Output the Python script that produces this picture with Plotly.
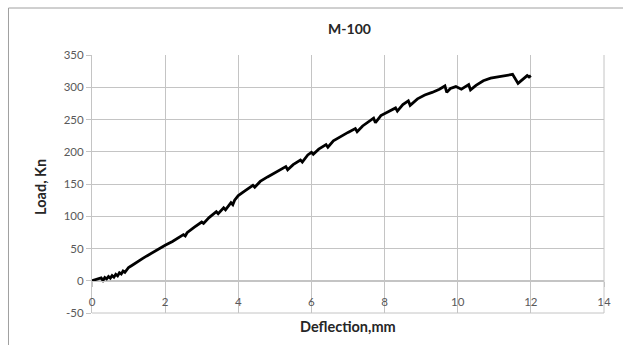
import plotly.graph_objects as go

# Deflection (mm) and Load (kN)
deflection = [0, 0.1, 0.2, 0.25, 0.3, 0.35, 0.4, 0.45, 0.5, 0.55, 0.6, 0.65, 0.7, 0.75,
              0.8, 0.85, 0.9, 0.95, 1.0, 1.1, 1.2, 1.3, 1.4, 1.5, 1.6, 1.7, 1.8, 1.9,
              2.0, 2.2, 2.4, 2.5, 2.55, 2.6, 2.8, 3.0, 3.05, 3.2, 3.4, 3.45, 3.6, 3.65,
              3.8, 3.85, 3.9, 4.0, 4.2, 4.4, 4.45, 4.6, 4.8, 5.0, 5.2, 5.3, 5.35, 5.5,
              5.7, 5.75, 5.9, 6.0, 6.05, 6.2, 6.4, 6.45, 6.6, 6.8, 7.0, 7.2, 7.25, 7.4,
              7.6, 7.7, 7.75, 7.9, 8.1, 8.3, 8.35, 8.5, 8.65, 8.7, 8.9, 9.1, 9.3, 9.5,
              9.65, 9.7, 9.8, 9.95, 10.1, 10.3, 10.35, 10.5, 10.7, 10.9, 11.1, 11.3,
              11.5, 11.65, 11.8, 11.9, 11.95, 12.0]
load = [0, 1.5, 3, 4.5, 0.5, 5, 3, 6.5, 4, 8, 5.5, 10, 7.5, 12.5,
        10.5, 15, 13, 17.5, 20.5, 24, 28, 31.5, 35, 38.5, 42, 45.5, 49, 52.5,
        55, 61, 68, 71.5, 69.5, 74.5, 83, 91, 89, 98, 107, 104, 113, 110,
        121, 118, 125, 132, 140, 148, 145, 154, 161, 167, 174, 177, 172, 180,
        187, 184, 195, 199, 196, 204, 211, 207, 217, 224, 230, 236, 231, 240,
        248, 252, 245, 256, 262, 268, 263, 273, 279, 272, 282, 288, 292, 297,
        302, 292, 298, 301, 297, 304, 296, 303, 310, 314, 316, 318,
        320, 306, 313, 318, 316, 318]

x_ticks = [0, 2, 4, 6, 8, 10, 12, 14]
y_ticks = [-50, 0, 50, 100, 150, 200, 250, 300, 350]

grid = "#c4c4c4"
tick_font = dict(family="Lato, Open Sans, sans-serif", size=11.5, color="#595959")
title_font = dict(family="Lato, Open Sans, sans-serif", size=14.5, color="#262626")

fig = go.Figure()
fig.add_trace(go.Scatter(x=deflection, y=load, mode="lines",
                         line=dict(color="black", width=2.8), showlegend=False))

fig.update_layout(
    width=623, height=345,
    margin=dict(l=92, r=16, t=55, b=32),
    paper_bgcolor="white", plot_bgcolor="white",
    title=dict(text="<b>M-100</b>", x=0.561, xanchor="center", y=0.915, yanchor="middle",
               font=dict(family="Lato, Open Sans, sans-serif", size=14, color="#262626")),
    xaxis=dict(range=[0, 14], tickvals=x_ticks, ticktext=[str(v) for v in x_ticks],
               showgrid=True, gridcolor=grid, gridwidth=1, zeroline=False,
               showline=True, linecolor=grid, mirror=False,
               anchor="free", position=0.125,
               ticks="outside", ticklen=5, tickcolor=grid, ticklabelstandoff=5,
               tickfont=tick_font),
    yaxis=dict(range=[-50, 350], tickvals=y_ticks, ticktext=[str(v) for v in y_ticks],
               showgrid=True, gridcolor=grid, gridwidth=1, zeroline=False,
               showline=True, linecolor=grid,
               ticks="outside", ticklen=5, tickcolor=grid,
               tickfont=tick_font, domain=[0, 1]),
)

# bottom and right grid boundaries
fig.add_shape(type="line", xref="paper", yref="paper", x0=0, x1=1, y0=0, y1=0,
              line=dict(color=grid, width=1))
fig.add_shape(type="line", xref="paper", yref="paper", x0=1, x1=1, y0=0, y1=1,
              line=dict(color=grid, width=1))

# chart outer frame (extends beyond the image at right/bottom)
fig.add_shape(type="rect", xref="paper", yref="paper",
              x0=(8 - 92) / 515, x1=1.2, y0=-0.5, y1=(313 - 8) / 258,
              line=dict(color="#a0a0a0", width=1), layer="below")

fig.add_annotation(text="<b>Deflection,mm</b>", xref="paper", yref="paper",
                   x=0.5, y=(313 - 326) / 258, xanchor="center", yanchor="middle",
                   showarrow=False, font=title_font)
fig.add_annotation(text="<b>Load, Kn</b>", xref="paper", yref="paper",
                   x=(40 - 92) / 515, y=0.49, xanchor="center", yanchor="middle",
                   textangle=-90, showarrow=False, font=title_font)

fig.write_html("out.html")
